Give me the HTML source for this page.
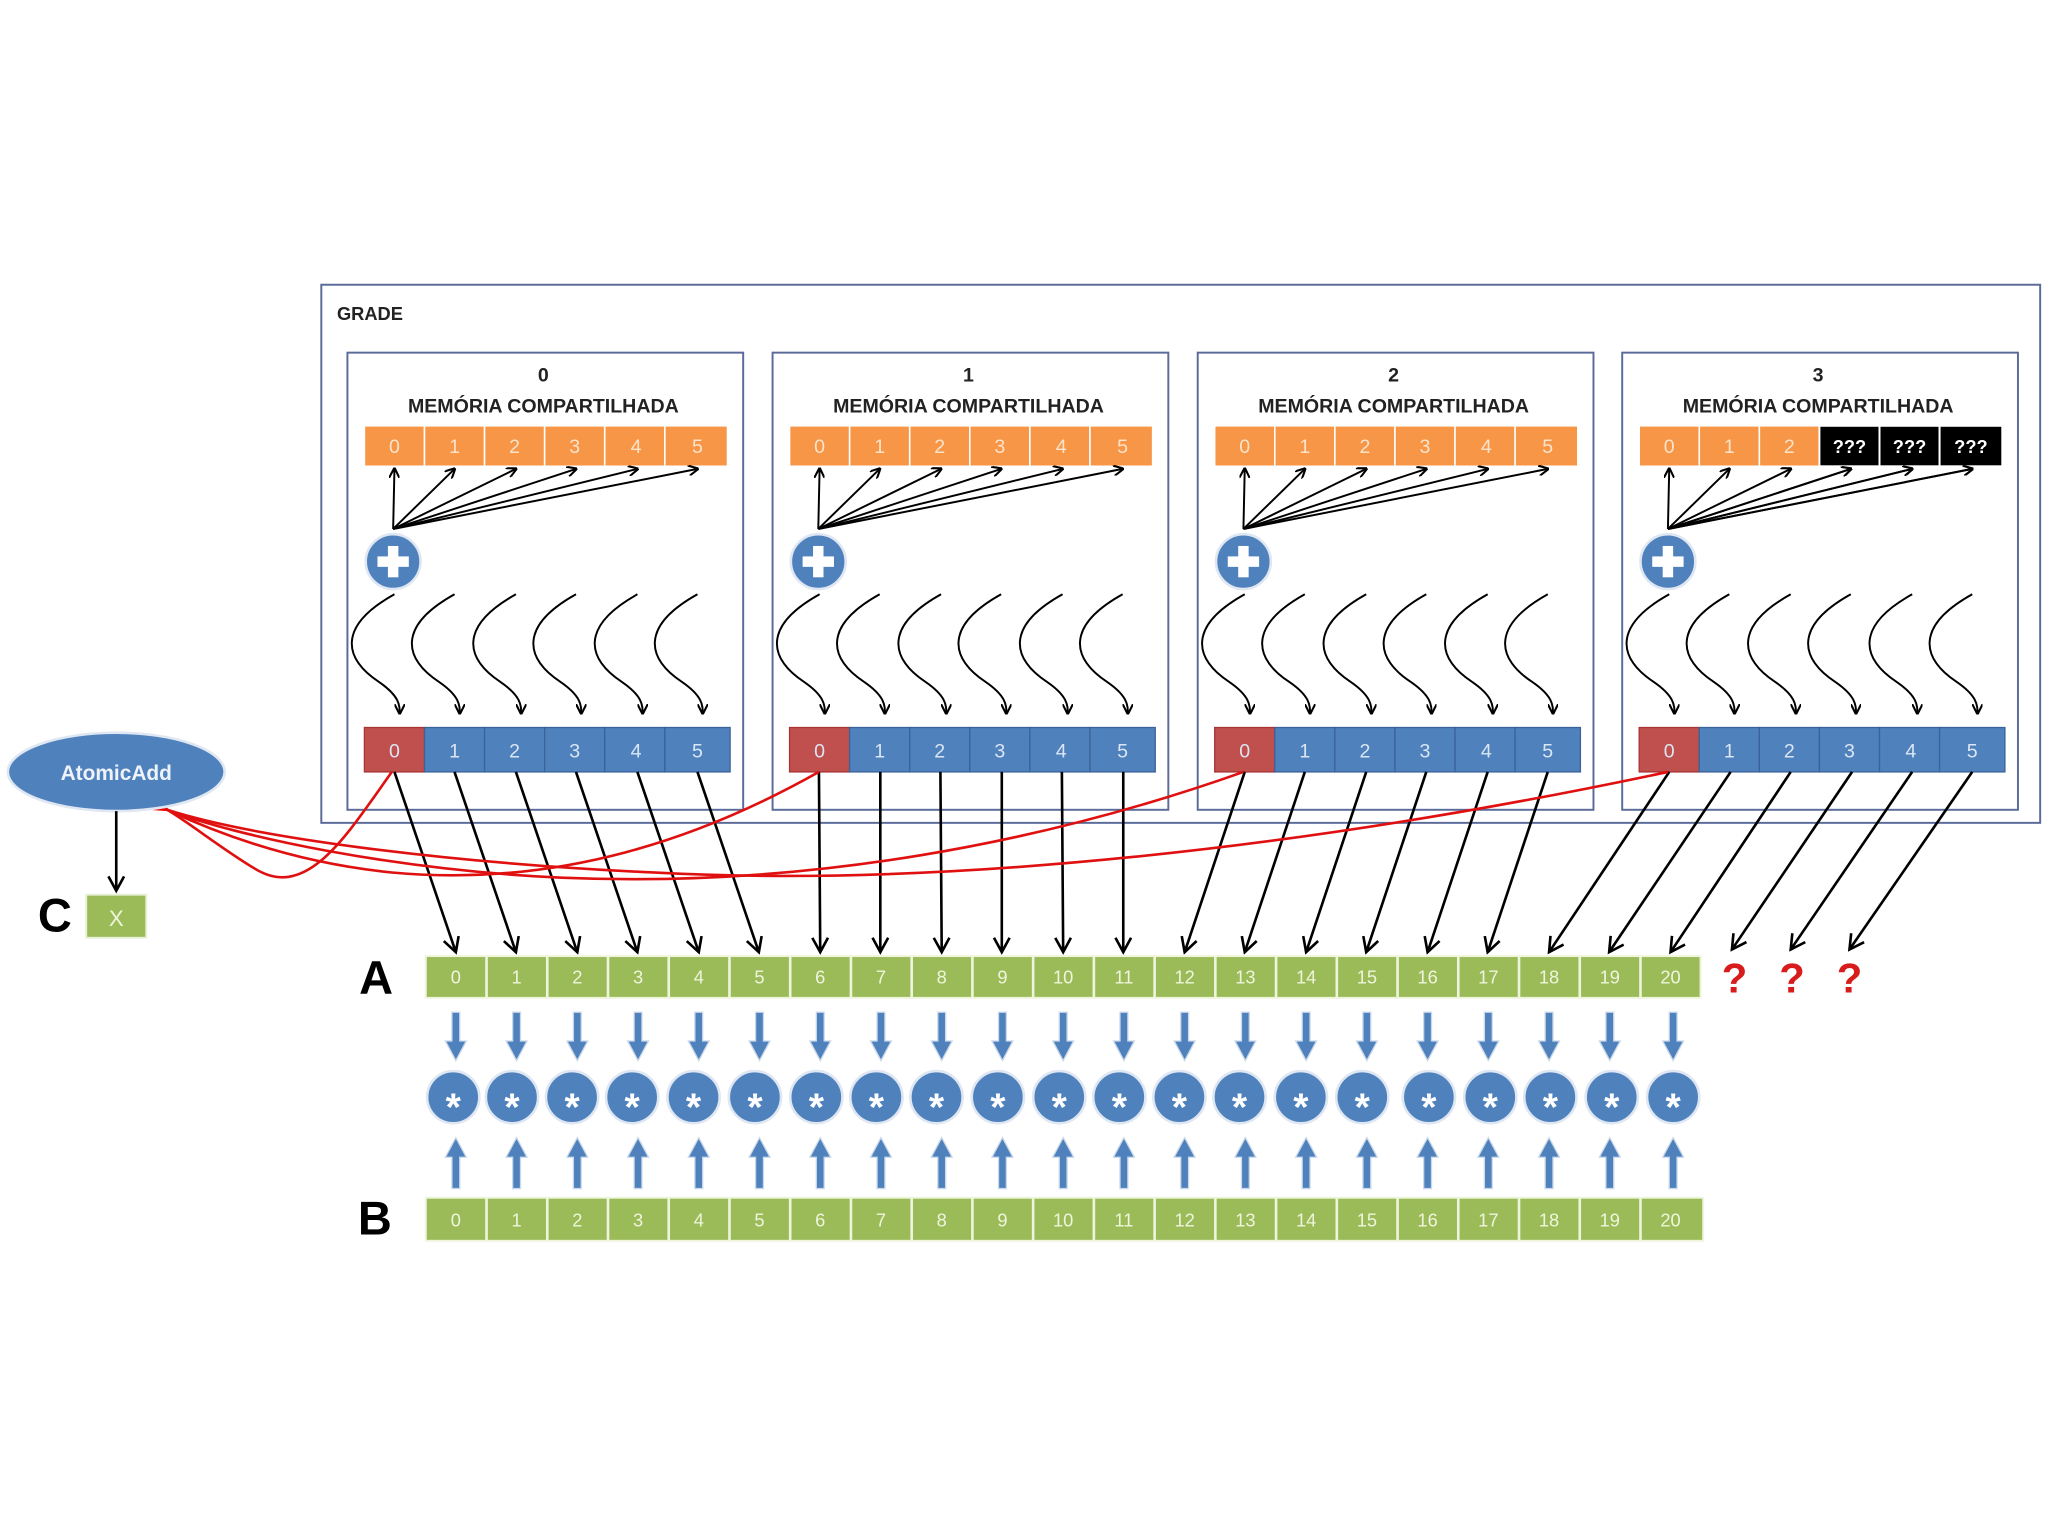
<!DOCTYPE html>
<html><head><meta charset="utf-8"><style>
html,body{margin:0;padding:0;background:#fff}
svg{display:block}
text{font-family:"Liberation Sans",sans-serif}
.c{font-size:15px;fill:#fbe3cc;text-anchor:middle}
.w{font-size:15px;fill:#dbe6f3;text-anchor:middle}
.g{font-size:14px;fill:#eef5dc;text-anchor:middle}
.t{font-size:15px;font-weight:bold;fill:#222;text-anchor:middle}
.s{font-size:30px;font-weight:bold;fill:#fff;text-anchor:middle}
</style></head><body>
<svg width="2048" height="1536" viewBox="0 0 1568 1176" xmlns="http://www.w3.org/2000/svg">
<defs>
<marker id="ah" markerWidth="8" markerHeight="8" refX="7" refY="4" orient="auto" markerUnits="userSpaceOnUse"><path d="M0,0 L8,4 L0,8" fill="none" stroke="#000" stroke-width="1.6"/></marker>
<marker id="ab" markerWidth="14" markerHeight="14" refX="12" refY="7" orient="auto" markerUnits="userSpaceOnUse"><path d="M1,1 L12,7 L1,13" fill="none" stroke="#000" stroke-width="2"/></marker>
<marker id="ar" markerWidth="12" markerHeight="12" refX="1" refY="6" orient="auto" markerUnits="userSpaceOnUse"><path d="M11,1 L1,6 L11,11" fill="none" stroke="#e00" stroke-width="2"/></marker>
<path id="wv" d="M0,455 C-45,480 -38,505 -12,522 C4,533 4,540 4,546" fill="none" stroke="#000" stroke-width="1.5" marker-end="url(#ah)"/>
<g id="blk">
<rect x="266" y="270" width="303" height="350" fill="#fff" stroke="#5b6b99" stroke-width="1.5"/>
<g fill="#f79646" stroke="#fff" stroke-width="1.2">
<rect x="279" y="326" width="46" height="31"/><rect x="325" y="326" width="46" height="31"/><rect x="371" y="326" width="46" height="31"/>
<rect x="417" y="326" width="46" height="31"/><rect x="463" y="326" width="46" height="31"/><rect x="509" y="326" width="48" height="31"/>
</g>
<g stroke="#000" stroke-width="1.5" fill="none" marker-end="url(#ah)">
<line x1="301" y1="405" x2="302" y2="359"/><line x1="301" y1="405" x2="348" y2="359"/><line x1="301" y1="405" x2="395" y2="359"/>
<line x1="301" y1="405" x2="441" y2="359"/><line x1="301" y1="405" x2="488" y2="359"/><line x1="301" y1="405" x2="534" y2="359"/>
</g>
<circle cx="301" cy="430" r="21" fill="#4f81bd" stroke="#dfe7f2" stroke-width="2"/>
<rect x="289" y="426" width="24" height="8" fill="#fff"/><rect x="297" y="418" width="8" height="24" fill="#fff"/>
<use href="#wv" x="302"/><use href="#wv" x="348"/><use href="#wv" x="395"/><use href="#wv" x="441"/><use href="#wv" x="488"/><use href="#wv" x="534"/>
<rect x="279" y="557" width="46" height="34" fill="#c0504d" stroke="#a33" stroke-width="1"/>
<g fill="#4f81bd" stroke="#3a6399" stroke-width="1">
<rect x="325" y="557" width="46" height="34"/><rect x="371" y="557" width="46" height="34"/><rect x="417" y="557" width="46" height="34"/>
<rect x="463" y="557" width="46" height="34"/><rect x="509" y="557" width="50" height="34"/>
</g>
<text class="c" x="302" y="347">0</text><text class="c" x="348" y="347">1</text><text class="c" x="394" y="347">2</text>
<text class="w" x="302" y="580">0</text><text class="w" x="348" y="580">1</text><text class="w" x="394" y="580">2</text>
<text class="w" x="440" y="580">3</text><text class="w" x="487" y="580">4</text><text class="w" x="534" y="580">5</text>
<text class="t" x="416" y="316">MEMÓRIA COMPARTILHADA</text>
</g>
<path id="dn" d="M-3,775 L3,775 L3,797 L8,797 L0,812 L-8,797 L-3,797 Z" fill="#4f81bd" stroke="#c9d8ea" stroke-width="1"/>
<path id="up" d="M-3,910 L3,910 L3,886 L8,886 L0,871 L-8,886 L-3,886 Z" fill="#4f81bd" stroke="#c9d8ea" stroke-width="1"/>
<g id="ml"><circle cx="0" cy="840" r="20" fill="#4f81bd" stroke="#dfe7f2" stroke-width="2"/><text class="s" x="0" y="858">*</text></g>
</defs>

<rect x="246" y="218" width="1316" height="412" fill="#fff" stroke="#5b6b99" stroke-width="1.5"/>
<text x="258" y="245" style="font-size:14px;font-weight:bold;fill:#222">GRADE</text>

<use href="#blk"/>
<text class="t" x="416" y="292">0</text>
<text class="c" x="440" y="347">3</text><text class="c" x="487" y="347">4</text><text class="c" x="534" y="347">5</text>
<g transform="translate(325.5,0)"><use href="#blk"/><text class="t" x="416" y="292">1</text>
<text class="c" x="440" y="347">3</text><text class="c" x="487" y="347">4</text><text class="c" x="534" y="347">5</text></g>
<g transform="translate(651,0)"><use href="#blk"/><text class="t" x="416" y="292">2</text>
<text class="c" x="440" y="347">3</text><text class="c" x="487" y="347">4</text><text class="c" x="534" y="347">5</text></g>
<g transform="translate(976,0)"><use href="#blk"/><text class="t" x="416" y="292">3</text>
<g fill="#000" stroke="#fff" stroke-width="1.5"><rect x="417" y="326" width="46" height="31"/><rect x="463" y="326" width="46" height="31"/><rect x="509" y="326" width="48" height="31"/></g>
<g stroke="#000" stroke-width="1.5" marker-end="url(#ah)"><line x1="301" y1="405" x2="441" y2="359"/><line x1="301" y1="405" x2="488" y2="359"/><line x1="301" y1="405" x2="534" y2="359"/></g>
<text x="440" y="347" style="font-size:14px;font-weight:bold;fill:#fff;text-anchor:middle">???</text>
<text x="486" y="347" style="font-size:14px;font-weight:bold;fill:#fff;text-anchor:middle">???</text>
<text x="533" y="347" style="font-size:14px;font-weight:bold;fill:#fff;text-anchor:middle">???</text></g>

<!-- black arrows to A -->
<g stroke="#000" stroke-width="2" marker-end="url(#ab)">
<line x1="302" y1="591" x2="349" y2="729"/><line x1="348" y1="591" x2="395" y2="729"/><line x1="395" y1="591" x2="442" y2="729"/>
<line x1="441" y1="591" x2="488" y2="729"/><line x1="488" y1="591" x2="535" y2="729"/><line x1="534" y1="591" x2="581" y2="729"/>
<line x1="627" y1="591" x2="628" y2="729"/><line x1="674" y1="591" x2="674" y2="729"/><line x1="720" y1="591" x2="721" y2="729"/>
<line x1="767" y1="591" x2="767" y2="729"/><line x1="813" y1="591" x2="814" y2="729"/><line x1="860" y1="591" x2="860" y2="729"/>
<line x1="953" y1="591" x2="907" y2="729"/><line x1="999" y1="591" x2="953" y2="729"/><line x1="1046" y1="591" x2="1000" y2="729"/>
<line x1="1092" y1="591" x2="1046" y2="729"/><line x1="1139" y1="591" x2="1093" y2="729"/><line x1="1185" y1="591" x2="1139" y2="729"/>
<line x1="1278" y1="591" x2="1186" y2="729"/><line x1="1325" y1="591" x2="1232" y2="729"/><line x1="1371" y1="591" x2="1279" y2="729"/>
<line x1="1418" y1="591" x2="1326" y2="727"/><line x1="1464" y1="591" x2="1371" y2="727"/><line x1="1510" y1="591" x2="1416" y2="727"/>
</g>

<!-- red curves -->
<g stroke="#e01010" stroke-width="2" fill="none">
<path d="M300,591 C265,640 235,690 195,665 C170,650 145,630 128,620" marker-end="url(#ar)"/>
<path d="M627,591 C540,640 430,680 300,668 C220,660 160,635 128,620"/>
<path d="M952,591 C800,645 620,680 430,672 C300,666 180,640 128,620"/>
<path d="M1277,591 C1000,650 720,680 500,668 C330,660 190,640 128,620"/>
</g>

<!-- AtomicAdd -->
<ellipse cx="89" cy="591" rx="83" ry="30" fill="#4f81bd" stroke="#dfe7f2" stroke-width="2"/>
<text x="89" y="597" style="font-size:16px;font-weight:bold;fill:#eef3fa;text-anchor:middle">AtomicAdd</text>
<line x1="89" y1="621" x2="89" y2="682" stroke="#000" stroke-width="2" marker-end="url(#ab)"/>
<text x="42" y="713" style="font-size:36px;font-weight:bold;fill:#000;text-anchor:middle">C</text>
<rect x="66" y="685" width="46" height="33" fill="#9bbb59" stroke="#e8f0d6" stroke-width="1.5"/>
<text class="g" x="89" y="709" style="font-size:17px">X</text>

<text x="288" y="761" style="font-size:36px;font-weight:bold;fill:#000;text-anchor:middle">A</text>
<text x="287" y="945" style="font-size:36px;font-weight:bold;fill:#000;text-anchor:middle">B</text>

<!-- A and B rows -->
<g fill="#9bbb59" stroke="#eef5dc" stroke-width="1.5">
<rect x="326" y="732" width="976" height="32"/>
<rect x="326" y="917" width="978" height="33"/>
</g>
<g stroke="#eef5dc" stroke-width="2">
<path d="M372.5,732v32M419,732v32M465.5,732v32M512,732v32M558.5,732v32M605,732v32M651.5,732v32M698,732v32M744.5,732v32M791,732v32M837.5,732v32M884,732v32M930.5,732v32M977,732v32M1023.5,732v32M1070,732v32M1116.5,732v32M1163,732v32M1209.5,732v32M1256,732v32"/>
<path d="M372.5,917v33M419,917v33M465.5,917v33M512,917v33M558.5,917v33M605,917v33M651.5,917v33M698,917v33M744.5,917v33M791,917v33M837.5,917v33M884,917v33M930.5,917v33M977,917v33M1023.5,917v33M1070,917v33M1116.5,917v33M1163,917v33M1209.5,917v33M1256,917v33"/>
</g>
<g class="g">
<text class="g" x="349" y="753">0</text><text class="g" x="395.5" y="753">1</text><text class="g" x="442" y="753">2</text><text class="g" x="488.5" y="753">3</text><text class="g" x="535" y="753">4</text><text class="g" x="581.5" y="753">5</text><text class="g" x="628" y="753">6</text><text class="g" x="674.5" y="753">7</text><text class="g" x="721" y="753">8</text><text class="g" x="767.5" y="753">9</text><text class="g" x="814" y="753">10</text><text class="g" x="860.5" y="753">11</text><text class="g" x="907" y="753">12</text><text class="g" x="953.5" y="753">13</text><text class="g" x="1000" y="753">14</text><text class="g" x="1046.5" y="753">15</text><text class="g" x="1093" y="753">16</text><text class="g" x="1139.5" y="753">17</text><text class="g" x="1186" y="753">18</text><text class="g" x="1232.5" y="753">19</text><text class="g" x="1279" y="753">20</text>
<text class="g" x="349" y="939">0</text><text class="g" x="395.5" y="939">1</text><text class="g" x="442" y="939">2</text><text class="g" x="488.5" y="939">3</text><text class="g" x="535" y="939">4</text><text class="g" x="581.5" y="939">5</text><text class="g" x="628" y="939">6</text><text class="g" x="674.5" y="939">7</text><text class="g" x="721" y="939">8</text><text class="g" x="767.5" y="939">9</text><text class="g" x="814" y="939">10</text><text class="g" x="860.5" y="939">11</text><text class="g" x="907" y="939">12</text><text class="g" x="953.5" y="939">13</text><text class="g" x="1000" y="939">14</text><text class="g" x="1046.5" y="939">15</text><text class="g" x="1093" y="939">16</text><text class="g" x="1139.5" y="939">17</text><text class="g" x="1186" y="939">18</text><text class="g" x="1232.5" y="939">19</text><text class="g" x="1279" y="939">20</text>
</g>

<g style="font-size:32px;font-weight:bold;fill:#d81b1b">
<text x="1328" y="760" text-anchor="middle">?</text><text x="1372" y="760" text-anchor="middle">?</text><text x="1416" y="760" text-anchor="middle">?</text>
</g>

<!-- blue arrows and multiply circles -->
<g>
<use href="#dn" x="349"/><use href="#dn" x="395.5"/><use href="#dn" x="442"/><use href="#dn" x="488.5"/><use href="#dn" x="535"/><use href="#dn" x="581.5"/><use href="#dn" x="628"/><use href="#dn" x="674.5"/><use href="#dn" x="721"/><use href="#dn" x="767.5"/><use href="#dn" x="814"/><use href="#dn" x="860.5"/><use href="#dn" x="907"/><use href="#dn" x="953.5"/><use href="#dn" x="1000"/><use href="#dn" x="1046.5"/><use href="#dn" x="1093"/><use href="#dn" x="1139.5"/><use href="#dn" x="1186"/><use href="#dn" x="1232.5"/><use href="#dn" x="1281"/>
<use href="#up" x="349"/><use href="#up" x="395.5"/><use href="#up" x="442"/><use href="#up" x="488.5"/><use href="#up" x="535"/><use href="#up" x="581.5"/><use href="#up" x="628"/><use href="#up" x="674.5"/><use href="#up" x="721"/><use href="#up" x="767.5"/><use href="#up" x="814"/><use href="#up" x="860.5"/><use href="#up" x="907"/><use href="#up" x="953.5"/><use href="#up" x="1000"/><use href="#up" x="1046.5"/><use href="#up" x="1093"/><use href="#up" x="1139.5"/><use href="#up" x="1186"/><use href="#up" x="1232.5"/><use href="#up" x="1281"/>
<use href="#ml" x="347"/><use href="#ml" x="392"/><use href="#ml" x="438"/><use href="#ml" x="484"/><use href="#ml" x="531"/><use href="#ml" x="578"/><use href="#ml" x="625"/><use href="#ml" x="671"/><use href="#ml" x="717"/><use href="#ml" x="764"/><use href="#ml" x="811"/><use href="#ml" x="857"/><use href="#ml" x="903"/><use href="#ml" x="949"/><use href="#ml" x="996"/><use href="#ml" x="1043"/><use href="#ml" x="1094"/><use href="#ml" x="1141"/><use href="#ml" x="1187"/><use href="#ml" x="1234"/><use href="#ml" x="1281"/>
</g>
</svg>
</body></html>
